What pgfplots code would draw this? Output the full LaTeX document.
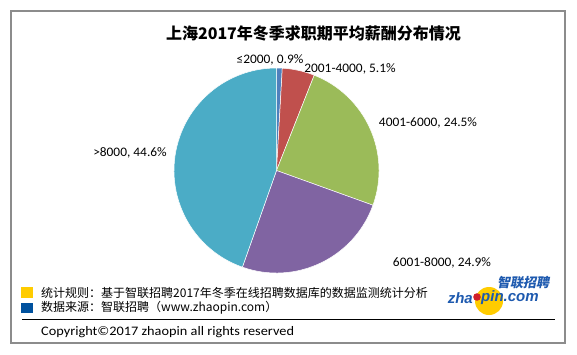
\documentclass[border=0pt]{standalone}
\usepackage{pgfplots}
\pgfplotsset{compat=1.18}
\usepackage{pgfplotstable}
\usepackage{fontspec}
\setmainfont{Carlito}
\newfontfamily\lab{Carlito}[FakeStretch=1.03]
\newfontfamily\copyfont{Carlito}[FakeStretch=1.1]
\newfontfamily\cjk{Noto Sans CJK SC}
\newfontfamily\cjklogo{Noto Sans CJK SC}[FakeSlant=0.2]
\newfontfamily\logofont{Liberation Sans}
\definecolor{s0}{HTML}{4F81BD}
\definecolor{s1}{HTML}{C0504D}
\definecolor{s2}{HTML}{9BBB59}
\definecolor{s3}{HTML}{8064A2}
\definecolor{s4}{HTML}{4BACC6}
\definecolor{framegray}{HTML}{8C8C8C}
\definecolor{fyellow}{HTML}{FFCC00}
\definecolor{fblue}{HTML}{00519E}
\definecolor{logoblue}{HTML}{1E5AAF}
\definecolor{logored}{HTML}{D0202A}

\pgfplotstableread{
value
0.9
5.1
24.5
24.9
44.6
}\piedata

\begin{document}
\begin{tikzpicture}[x=1pt,y=1pt]
\useasboundingbox (0,0) rectangle (577,354);
\fill[white] (0,0) rectangle (577,354);
\draw[framegray, line width=1.2pt] (11,11) rectangle (565,343);
\node[font=\cjk\bfseries\fontsize{16}{19}\selectfont] at (313.5,321) {上海2017年冬季求职期平均薪酬分布情况};
\begin{axis}[hide axis, scale only axis, width=205pt, height=205pt,
  xmin=-1, xmax=1, ymin=-1, ymax=1, clip=false,
  at={(276.5pt,183.5pt)}, anchor=center]
\def\cum{0}
\pgfplotsforeachungrouped \i in {0,...,4}{%
  \pgfplotstablegetelem{\i}{value}\of{\piedata}\let\v\pgfplotsretval
  \pgfmathsetmacro{\aS}{90-3.6*\cum}%
  \pgfmathsetmacro{\aE}{90-3.6*(\cum+\v)}%
  \pgfmathsetmacro{\cum}{\cum+\v}%
  \edef\temp{\noexpand\fill[s\i, draw=white, line width=0.5pt] (axis cs:0,0) -- (axis cs:{cos(\aS)},{sin(\aS)}) arc[start angle=\aS, end angle=\aE, radius=102.5pt] -- cycle;}%
  \temp
}
\end{axis}
\begin{scope}[every node/.style={font=\lab\fontsize{13}{15}\selectfont, inner sep=0pt}]
\node at (270,294) {≤2000, 0.9\%};
\node at (350,285) {2001-4000, 5.1\%};
\node at (428,231) {4001-6000, 24.5\%};
\node at (442,91) {6001-8000, 24.9\%};
\node at (130,201) {>8000, 44.6\%};
\end{scope}
% footer
\fill[fyellow] (21,56) rectangle (33,67);
\fill[fblue] (21,41) rectangle (33,51);
\node[anchor=west, inner sep=0pt, font=\cjk\fontsize{12}{14}\selectfont] at (41,61.5) {统计规则：基于智联招聘2017年冬季在线招聘数据库的数据监测统计分析};
\node[anchor=west, inner sep=0pt, font=\cjk\fontsize{12}{14}\selectfont] at (41,46) {数据来源：智联招聘（www.zhaopin.com）};
\draw[black, line width=1pt] (22,34.5) -- (555,34.5);
\node[anchor=west, inner sep=0pt, font=\copyfont\fontsize{13}{15}\selectfont] at (41,22) {Copyright©2017 zhaopin all rights reserved};
% logo
\fill[fyellow] (489,53) circle (14);
\fill[logored] (477,57) circle (3.8);
\node[anchor=east, inner sep=0pt, text=logoblue, font=\logofont\bfseries\itshape\fontsize{15}{15}\selectfont] at (473,56) {zha};
\node[anchor=west, inner sep=0pt, text=logoblue, font=\logofont\bfseries\itshape\fontsize{15}{15}\selectfont] at (481,56) {pin.com};
\node[inner sep=0pt, text=logoblue, font=\cjklogo\bfseries\fontsize{13}{13}\selectfont] at (523,71) {智联招聘};
\end{tikzpicture}
\end{document}
